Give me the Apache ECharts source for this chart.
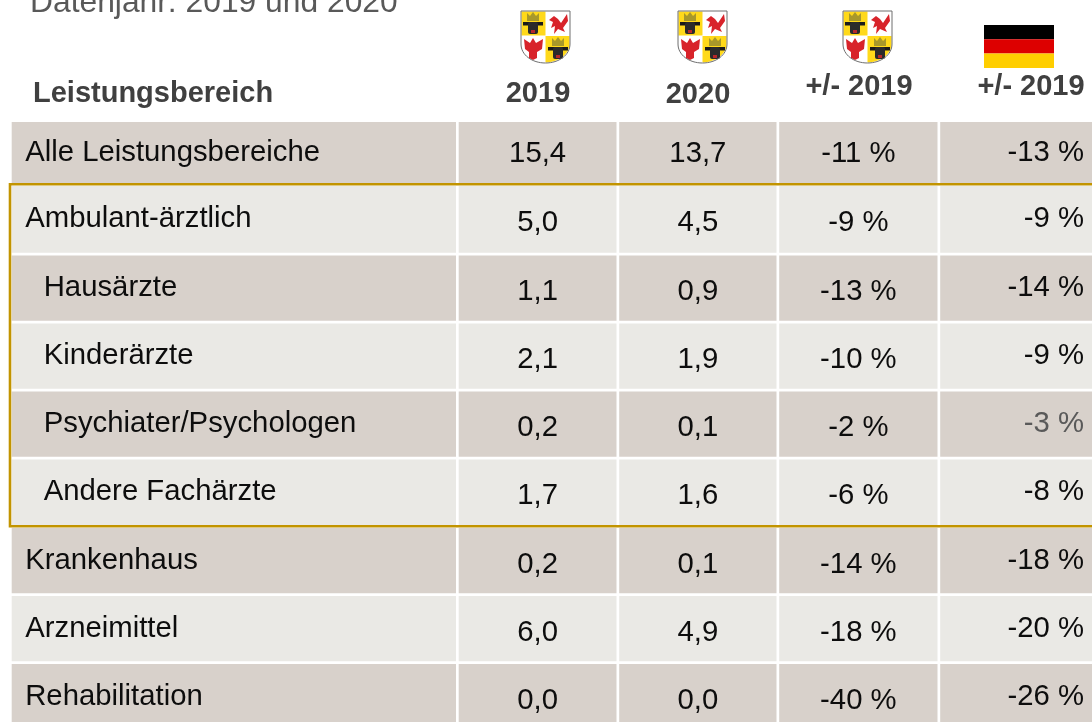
<!DOCTYPE html>
<html>
<head>
<meta charset="utf-8">
<script src="https://cdn.jsdelivr.net/npm/echarts@6/dist/echarts.min.js"></script>
<style>
html,body{margin:0;padding:0;background:#fff;overflow:hidden;}
#main{width:1092px;height:722px;}
</style>
</head>
<body>
<div id="main"></div>
<script>
var titleText = 'Datenjahr: 2019 und 2020';
var headerFirst = 'Leistungsbereich';
var columns = ['MV 2019', 'MV 2020', 'MV Diff', 'DE Diff'];
var columnHeads = ['2019', '2020', '+/- 2019', '+/- 2019'];
var categories = ['Alle Leistungsbereiche', 'Ambulant-ärztlich', 'Hausärzte', 'Kinderärzte',
    'Psychiater/Psychologen', 'Andere Fachärzte', 'Krankenhaus', 'Arzneimittel', 'Rehabilitation'];
var indented = ['Hausärzte', 'Kinderärzte', 'Psychiater/Psychologen', 'Andere Fachärzte'];
var values2019 = [15.4, 5.0, 1.1, 2.1, 0.2, 1.7, 0.2, 6.0, 0.0];
var values2020 = [13.7, 4.5, 0.9, 1.9, 0.1, 1.6, 0.1, 4.9, 0.0];
var diffMV = [-11, -9, -13, -10, -2, -6, -14, -18, -40];
var diffDE = [-13, -9, -14, -9, -3, -8, -18, -20, -26];

var dark = '#d8d1cb', light = '#eae9e5', gold = '#c29400';
var fontName = '"Liberation Sans", Arial, sans-serif';

function num(v) { return v.toFixed(1).replace('.', ','); }
function pct(v) { return v + ' %'; }

var cells = [];
categories.forEach(function (name, r) {
    cells.push(['Name', name, name]);
    cells.push([columns[0], name, num(values2019[r])]);
    cells.push([columns[1], name, num(values2020[r])]);
    cells.push([columns[2], name, pct(diffMV[r])]);
    cells.push([columns[3], name, pct(diffDE[r])]);
});

var rowSizes = [64, 69.5, 68, 68, 68, 68.5, 68, 68, 68];
var colSizes = [447, 160.5, 160, 161, 160];

function renderCell(params, api) {
    var c = cells[params.dataIndex];
    var r = categories.indexOf(c[1]);
    var colIdx = c[0] === 'Name' ? 0 : columns.indexOf(c[0]) + 1;
    var rect = api.layout([c[0], c[1]]).rect;
    var w = rect.width - 2.7, h = rect.height - 2.7;
    var cy = rect.y + h / 2;
    var tx, align = 'center', dy = 0;
    if (colIdx === 0) {
        tx = rect.x + (indented.indexOf(c[1]) >= 0 ? 32 : 13.5);
        align = 'left';
        dy = 0;
    } else if (colIdx === 4) {
        tx = 1084;
        align = 'right';
        dy = 0;
    } else {
        tx = rect.x + w / 2;
        dy = r === 0 ? 1 : 4;
    }
    return {
        type: 'group',
        children: [{
            type: 'rect',
            shape: { x: rect.x, y: rect.y, width: w, height: h },
            style: { fill: r % 2 === 0 ? dark : light }
        }, {
            type: 'text',
            z2: 5,
            style: {
                x: tx, y: cy + dy,
                text: c[2],
                align: align,
                verticalAlign: 'middle',
                fontFamily: fontName,
                fontSize: 29.3,
                fill: (colIdx === 4 && r === 4) ? '#595959' : '#0d0d0d'
            }
        }]
    };
}

// Wappen is only approximated with small shapes
var shieldPath = 'M0 0 H49 V33 C49 44 38 52 24.5 52 C11 52 0 44 0 33 Z';

function bull(ox, oy) {
    return [
        { type: 'polygon', shape: { points: [[ox + 4, oy], [ox + 7, oy + 3], [ox + 10, oy - 1], [ox + 13, oy + 3], [ox + 16, oy], [ox + 16, oy + 8], [ox + 4, oy + 8]] }, style: { fill: '#a8982a' } },
        { type: 'rect', shape: { x: ox, y: oy + 9, width: 20, height: 3.5 }, style: { fill: '#1a1a1a' } },
        { type: 'rect', shape: { x: ox + 5, y: oy + 9, width: 10, height: 12, r: 2 }, style: { fill: '#2b2b2b' } },
        { type: 'rect', shape: { x: ox + 8, y: oy + 17, width: 4, height: 3 }, style: { fill: '#b5282a' } }
    ];
}

function griffin(ox, oy) {
    return [{
        type: 'polygon',
        shape: { points: [[ox + 1, oy + 6], [ox + 6, oy + 2], [ox + 10, oy + 5], [ox + 13, oy + 9], [ox + 19, oy], [ox + 20, oy + 7], [ox + 15, oy + 14], [ox + 17, oy + 18], [ox + 10, oy + 15], [ox + 6, oy + 20], [ox + 7, oy + 12], [ox + 3, oy + 14], [ox + 5, oy + 8]] },
        style: { fill: '#d8232a' }
    }];
}

function eagle(ox, oy) {
    return [{
        type: 'polygon',
        shape: { points: [[ox + 1, oy + 1], [ox + 7, oy + 5], [ox + 10, oy], [ox + 13, oy + 5], [ox + 20, oy + 1], [ox + 19, oy + 11], [ox + 14, oy + 14], [ox + 14, oy + 20], [ox + 10, oy + 22], [ox + 6, oy + 20], [ox + 6, oy + 14], [ox + 2, oy + 11]] },
        style: { fill: '#d8232a' }
    }];
}

var shieldX = [521, 678, 843];

function renderShield(params) {
    var parts = [
        { type: 'path', shape: { pathData: shieldPath }, style: { fill: '#fff' } },
        { type: 'rect', shape: { x: 0.5, y: 0.5, width: 24, height: 24 }, style: { fill: '#ffd91a' } },
        { type: 'path', shape: { pathData: 'M24.5 25 H48.5 V33 C48.5 43 38 51 24.5 51.5 Z' }, style: { fill: '#ffd91a' } }
    ];
    parts = parts.concat(bull(2, 2), griffin(27, 3), eagle(2, 27), bull(27, 27));
    parts.push({ type: 'path', shape: { pathData: shieldPath }, style: { fill: 'none', stroke: '#6e6e6e', lineWidth: 1 } });
    return { type: 'group', x: shieldX[params.dataIndex], y: 11, children: parts };
}

function headText(text, x, y, align) {
    return {
        type: 'text', x: x, y: y,
        style: {
            text: text, align: align || 'center', verticalAlign: 'middle',
            fontFamily: fontName, fontSize: 29, fontWeight: 'bold', fill: '#404040'
        }
    };
}

var option = {
    animation: false,
    backgroundColor: '#fff',
    matrix: {
        left: 11.7, top: 122,
        width: colSizes.reduce(function (a, b) { return a + b; }, 0),
        height: rowSizes.reduce(function (a, b) { return a + b; }, 0),
        x: {
            show: false,
            data: ['Name'].concat(columns).map(function (n, i) { return { value: n, size: colSizes[i] }; })
        },
        y: {
            show: false,
            data: categories.map(function (n, i) { return { value: n, size: rowSizes[i] }; })
        },
        body: { itemStyle: { borderWidth: 0, color: 'transparent' } },
        backgroundStyle: { borderWidth: 0, color: 'transparent' }
    },
    series: [{
        type: 'custom',
        coordinateSystem: 'matrix',
        renderItem: renderCell,
        data: cells,
        silent: true
    }, {
        type: 'custom',
        coordinateSystem: 'none',
        renderItem: renderShield,
        data: shieldX,
        silent: true
    }],
    graphic: [
        { type: 'text', x: 30, y: 3, style: { text: titleText, align: 'left', verticalAlign: 'middle', fontFamily: fontName, fontSize: 31.8, fill: '#595959' } },
        headText(headerFirst, 33, 94, 'left'),
        headText(columnHeads[0], 538, 94),
        headText(columnHeads[1], 698, 95),
        headText(columnHeads[2], 859, 87),
        headText(columnHeads[3], 1031, 87),
        { type: 'rect', shape: { x: 984, y: 25, width: 70, height: 14.3 }, style: { fill: '#000' } },
        { type: 'rect', shape: { x: 984, y: 39.3, width: 70, height: 14.3 }, style: { fill: '#dd0000' } },
        { type: 'rect', shape: { x: 984, y: 53.6, width: 70, height: 14.4 }, style: { fill: '#ffce00' } },
        { type: 'rect', z: 10, shape: { x: 10, y: 184.3, width: 1100, height: 342 }, style: { fill: 'none', stroke: gold, lineWidth: 2.6 } }
    ]
};

var chart = echarts.init(document.getElementById('main'));
chart.setOption(option);
</script>
</body>
</html>
